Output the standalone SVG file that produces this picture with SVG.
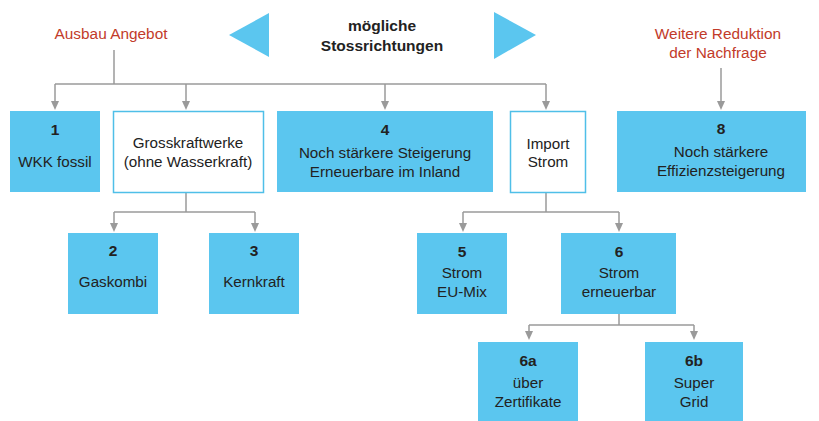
<svg xmlns="http://www.w3.org/2000/svg" width="819" height="421" viewBox="0 0 819 421">
<defs>
<style>
.b{fill:#5bc6ef;}
.w{fill:#fff;stroke:#4fbfe8;stroke-width:1.5;}
.t{font-family:"Liberation Sans",Arial,sans-serif;font-size:15.2px;fill:#222;text-anchor:middle;}
.n{font-weight:bold;font-size:15.5px;}
.r{font-family:"Liberation Sans",Arial,sans-serif;font-size:15.4px;fill:#c23b2a;text-anchor:middle;}
.c{fill:none;stroke:#9a9a9a;stroke-width:1.5;}
.a{fill:#9a9a9a;}
</style>
</defs>
<rect width="819" height="421" fill="#fff"/>
<g id="header">
<polygon points="229,35 269,13 269,57" fill="#5bc6ef"/>
<polygon points="494,12 536,35 494,59" fill="#5bc6ef"/>
<text class="t n" x="382" y="31">mögliche</text>
<text class="t n" x="382" y="51">Stossrichtungen</text>
</g>
<g id="ausbau"><text class="r" x="111" y="39">Ausbau Angebot</text></g>
<g id="reduktion"><text class="r" x="718" y="39">Weitere Reduktion</text><text class="r" x="718" y="58">der Nachfrage</text></g>
<g id="connectors">
<path class="c" d="M114,50 V84 M55,84 H546 M55,84 V103 M186,84 V103 M385,84 V103 M546,84 V103"/>
<path class="c" d="M721,68 V103"/>
<path class="c" d="M186,193 V212 M114,212 H255 M114,212 V225 M255,212 V225"/>
<path class="c" d="M546,193 V212 M463,212 H619 M463,212 V225 M619,212 V225"/>
<path class="c" d="M619,314 V325 M529,325 H694 M529,325 V333 M694,325 V333"/>
<g class="a">
<polygon points="51,101 59,101 55,110"/>
<polygon points="182,101 190,101 186,110"/>
<polygon points="381,101 389,101 385,110"/>
<polygon points="542,101 550,101 546,110"/>
<polygon points="717,101 725,101 721,110"/>
<polygon points="110,223 118,223 114,232"/>
<polygon points="251,223 259,223 255,232"/>
<polygon points="459,223 467,223 463,232"/>
<polygon points="615,223 623,223 619,232"/>
<polygon points="525,331 533,331 529,340"/>
<polygon points="690,331 698,331 694,340"/>
</g>
</g>
<g id="n1"><rect class="b" x="10" y="111" width="90" height="81"/><text class="t n" x="55" y="135">1</text><text class="t" x="55" y="167">WKK fossil</text></g>
<g id="gross"><rect class="w" x="113.5" y="111.5" width="150" height="81"/><text class="t" x="188" y="148">Grosskraftwerke</text><text class="t" x="188" y="167">(ohne Wasserkraft)</text></g>
<g id="n4"><rect class="b" x="277" y="111" width="216" height="81"/><text class="t n" x="385" y="135">4</text><text class="t" x="385" y="158">Noch stärkere Steigerung</text><text class="t" x="385" y="177">Erneuerbare im Inland</text></g>
<g id="import"><rect class="w" x="510.5" y="111.5" width="75" height="81"/><text class="t" x="548" y="149">Import</text><text class="t" x="548" y="167">Strom</text></g>
<g id="n8"><rect class="b" x="617" y="111" width="189" height="81"/><text class="t n" x="721" y="134">8</text><text class="t" x="721" y="157">Noch stärkere</text><text class="t" x="721" y="176">Effizienzsteigerung</text></g>
<g id="n2"><rect class="b" x="68" y="233" width="90" height="81"/><text class="t n" x="113" y="256">2</text><text class="t" x="113" y="287">Gaskombi</text></g>
<g id="n3"><rect class="b" x="209" y="233" width="90" height="81"/><text class="t n" x="254" y="256">3</text><text class="t" x="254" y="287">Kernkraft</text></g>
<g id="n5"><rect class="b" x="417" y="233" width="90" height="81"/><text class="t n" x="462" y="257">5</text><text class="t" x="462" y="278">Strom</text><text class="t" x="462" y="297">EU-Mix</text></g>
<g id="n6"><rect class="b" x="561" y="233" width="115" height="81"/><text class="t n" x="619" y="257">6</text><text class="t" x="619" y="278">Strom</text><text class="t" x="619" y="297">erneuerbar</text></g>
<g id="n6a"><rect class="b" x="478" y="342" width="100" height="81"/><text class="t n" x="528" y="366">6a</text><text class="t" x="528" y="388">über</text><text class="t" x="528" y="407">Zertifikate</text></g>
<g id="n6b"><rect class="b" x="645" y="342" width="98" height="81"/><text class="t n" x="694" y="366">6b</text><text class="t" x="694" y="388">Super</text><text class="t" x="694" y="407">Grid</text></g>
</svg>
